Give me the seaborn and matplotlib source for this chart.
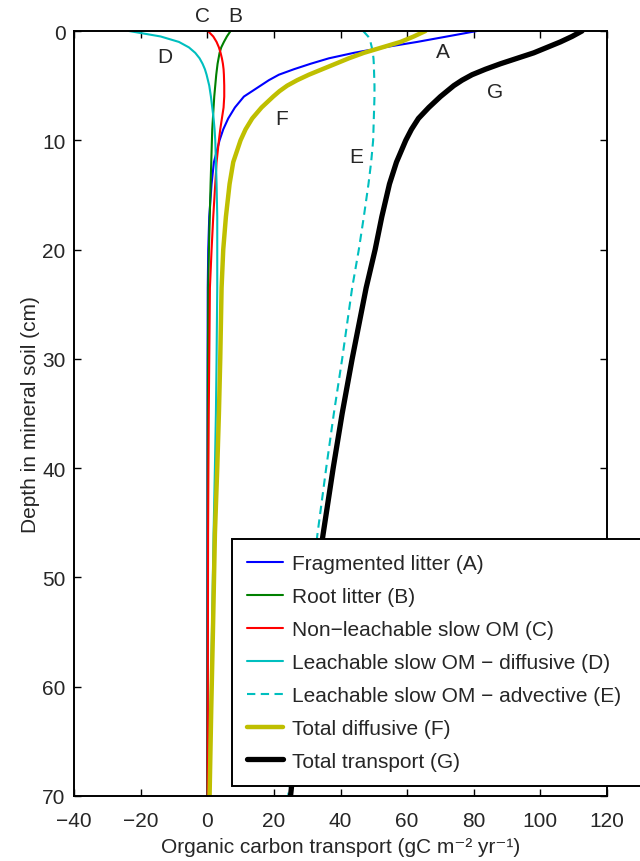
import matplotlib
matplotlib.use("Agg")
import matplotlib.pyplot as plt
import seaborn as sns
import pandas as pd

depth = [0, 0.5, 1, 1.5, 2, 2.5, 3, 3.5, 4, 4.5, 5, 5.5, 6, 7, 8, 9, 10, 12, 14, 17, 20, 23.5, 30, 35, 40, 46, 55, 62, 70]

frag_litter_A = [81, 72, 63, 53, 44, 36.5, 31, 26, 21.5, 18.5, 16, 13.5, 11, 8.3, 6.3, 4.8, 3.7, 2.0, 1.3, 0.6, 0.3, 0.15, 0.1, 0.08, 0.06, 0.05, 0.03, 0.02, 0.0]
root_litter_B = [7, 5.9, 5, 4.2, 3.7, 3.4, 3.1, 2.9, 2.7, 2.55, 2.4, 2.25, 2.1, 1.9, 1.7, 1.5, 1.4, 1.2, 1.0, 0.75, 0.5, 0.3, 0.2, 0.15, 0.12, 0.1, 0.08, 0.06, 0.05]
nonleach_C = [0.2, 1.8, 2.8, 3.5, 4.0, 4.4, 4.7, 4.9, 5.0, 5.05, 5.1, 5.1, 5.1, 4.9, 4.4, 3.9, 3.5, 2.8, 2.4, 1.8, 1.3, 0.8, 0.6, 0.45, 0.35, 0.25, 0.2, 0.15, 0.1]
leach_diff_D = [-23.5, -14, -8.5, -5.5, -3.6, -2.3, -1.4, -0.7, -0.2, 0.2, 0.6, 0.85, 1.1, 1.5, 1.9, 2.2, 2.4, 2.6, 2.8, 3.0, 3.0, 3.0, 2.8, 2.6, 2.3, 1.9, 1.4, 1.0, 0.5]
leach_adv_E = [46.8, 48.3, 49, 49.4, 49.7, 49.9, 50, 50.05, 50.1, 50.15, 50.2, 50.2, 50.2, 50.1, 50, 49.9, 49.8, 49.2, 48.4, 47, 45.5, 43.5, 40.5, 38, 35.7, 33.1, 29.5, 27, 24.3]
total_diff_F = [65.5, 62, 58, 52.5, 47, 42.5, 38.5, 34.5, 30.5, 27, 24, 21.7, 19.8, 16.3, 13.5, 11.5, 10, 7.8, 6.7, 5.6, 4.8, 4.3, 3.9, 3.5, 3.0, 2.3, 1.7, 1.2, 0.7]
total_G = [112.5, 109.5, 106, 102, 98, 93, 88, 83.5, 79.5, 76.5, 74, 72, 70, 66.5, 63.4, 61.3, 59.6, 56.8, 54.7, 52.4, 50.4, 47.7, 43.5, 40.5, 37.8, 34.8, 30.5, 27.8, 25]

labels = ["Fragmented litter (A)", "Root litter (B)", "Non\u2212leachable slow OM (C)",
          "Leachable slow OM \u2212 diffusive (D)", "Leachable slow OM \u2212 advective (E)",
          "Total diffusive (F)", "Total transport (G)"]
tag_letters = ["A", "B", "C", "D", "E", "F", "G"]
tag_x = [70.7, 8.5, -1.5, -12.6, 44.6, 22.4, 86.5]
tag_y = [1.9, -1.45, -1.45, 2.35, 11.5, 8.0, 5.5]

xticks = [-40, -20, 0, 20, 40, 60, 80, 100, 120]
yticks = [0, 10, 20, 30, 40, 50, 60, 70]

sns.set_style("ticks")
plt.rcParams["font.family"] = ["Liberation Sans", "DejaVu Sans"]
plt.rcParams["axes.unicode_minus"] = True

FS = 15
TXT = "#262626"

fig = plt.figure(figsize=(6.4, 8.62), dpi=100)
ax = fig.add_axes([74/640, 1-797/862, (607-74)/640, (797-32)/862])

series = [frag_litter_A, root_litter_B, nonleach_C, leach_diff_D, leach_adv_E, total_diff_F, total_G]
colors = ["#0000ff", "#008000", "#ff0000", "#00bfbf", "#00bfbf", "#bfbf00", "#000000"]
widths = [1.5, 1.5, 1.5, 1.5, 1.5, 3.2, 3.8]
styles = ["-", "-", "-", "-", (0, (4, 2.6)), "-", "-"]

for vals, lab, c, w, ls in zip(series, labels, colors, widths, styles):
    df = pd.DataFrame({"x": vals, "depth": depth})
    sns.lineplot(data=df, x="x", y="depth", ax=ax, color=c, linewidth=w, linestyle=ls,
                 label=lab, sort=False, estimator=None, orient="y")

for t, tx, ty in zip(tag_letters, tag_x, tag_y):
    ax.text(tx, ty, t, fontsize=FS, ha="center", va="center", color=TXT, clip_on=False)

ax.set_xlim(-40, 120)
ax.set_ylim(70, 0)
ax.set_xticks(xticks)
ax.set_yticks(yticks)
ax.tick_params(axis="both", direction="in", length=5, width=1, top=True, right=True,
               labelsize=FS, colors="black", labelcolor=TXT)
ax.tick_params(axis="x", pad=11)
ax.tick_params(axis="y", pad=6)
for s in ax.spines.values():
    s.set_visible(True)
    s.set_linewidth(1.4)
    s.set_color("black")
ax.set_xlabel("Organic carbon transport (gC m\u207b\u00b2 yr\u207b\u00b9)", fontsize=FS, color=TXT, labelpad=5)
ax.set_ylabel("Depth in mineral soil (cm)", fontsize=FS, color=TXT, labelpad=2)

leg = ax.legend(loc="upper left", bbox_to_anchor=(232/640, 0, 440/640, 1-540/862),
                bbox_transform=fig.transFigure, mode="expand",
                fontsize=FS, frameon=True, fancybox=False, edgecolor="black", framealpha=1,
                handlelength=1.75, handletextpad=0.4, labelspacing=0.67, borderpad=0.72,
                borderaxespad=0)
leg.get_frame().set_linewidth(1.4)
for t in leg.get_texts():
    t.set_color(TXT)

fig.savefig("out.png", dpi=100)
